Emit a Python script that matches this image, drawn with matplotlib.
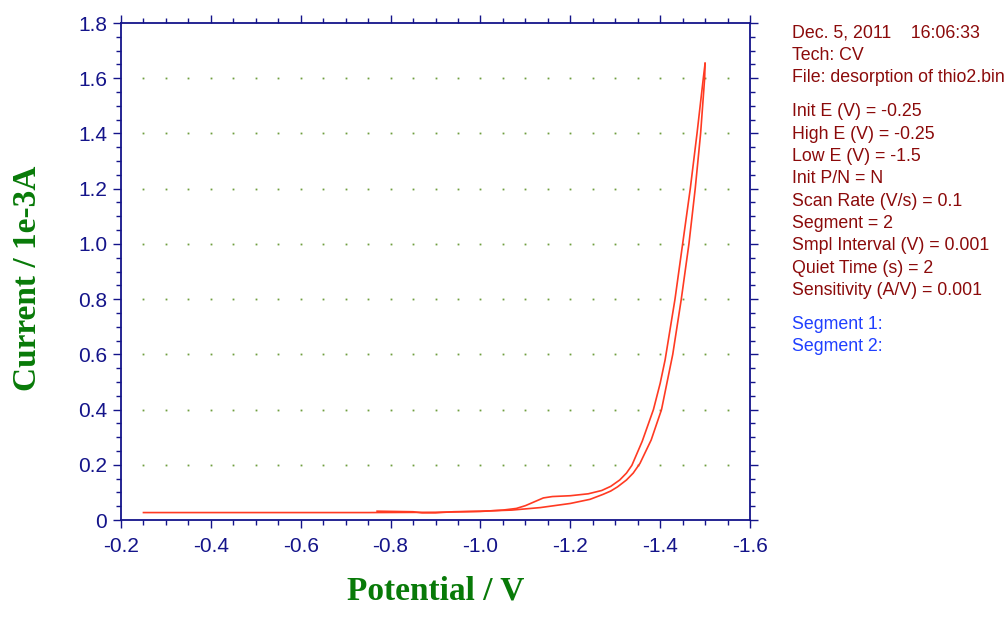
import numpy as np
import matplotlib
matplotlib.use('Agg')
import matplotlib.pyplot as plt
from matplotlib.ticker import MultipleLocator, FixedLocator, FixedFormatter

# segment 1: scan from -0.25 V down to -1.5 V
pot_seg1 = [-0.25, -0.5, -0.75, -0.9, -1.0, -1.05, -1.08, -1.10, -1.12, -1.14, -1.16,
            -1.20, -1.24, -1.27, -1.29, -1.31, -1.325, -1.337, -1.36, -1.385, -1.40,
            -1.411, -1.433, -1.450, -1.467, -1.482, -1.496, -1.50]
cur_seg1 = [0.027, 0.027, 0.027, 0.028, 0.031, 0.036, 0.042, 0.052, 0.066, 0.080, 0.085,
            0.088, 0.095, 0.107, 0.122, 0.145, 0.170, 0.198, 0.285, 0.400, 0.495,
            0.580, 0.800, 1.000, 1.200, 1.400, 1.600, 1.654]

# segment 2: return scan from -1.5 V
pot_seg2 = [-1.50, -1.499, -1.490, -1.478, -1.464, -1.447, -1.428, -1.403, -1.38, -1.355,
            -1.34, -1.325, -1.305, -1.29, -1.273, -1.244, -1.20, -1.133, -1.07, -1.0,
            -0.94, -0.90, -0.87, -0.85, -0.77]
cur_seg2 = [1.654, 1.600, 1.400, 1.200, 1.000, 0.800, 0.600, 0.400, 0.290, 0.205,
            0.170, 0.145, 0.120, 0.105, 0.093, 0.075, 0.060, 0.045, 0.036, 0.032,
            0.030, 0.026, 0.026, 0.030, 0.032]

y_ticks = [0, 0.2, 0.4, 0.6, 0.8, 1.0, 1.2, 1.4, 1.6, 1.8]
y_labels = ['0', '0.2', '0.4', '0.6', '0.8', '1.0', '1.2', '1.4', '1.6', '1.8']
x_ticks = [-0.2, -0.4, -0.6, -0.8, -1.0, -1.2, -1.4, -1.6]
x_labels = ['-0.2', '-0.4', '-0.6', '-0.8', '-1.0', '-1.2', '-1.4', '-1.6']

info_lines = ['Dec. 5, 2011    16:06:33', 'Tech: CV', 'File: desorption of thio2.bin']
param_lines = ['Init E (V) = -0.25', 'High E (V) = -0.25', 'Low E (V) = -1.5',
               'Init P/N = N', 'Scan Rate (V/s) = 0.1', 'Segment = 2',
               'Smpl Interval (V) = 0.001', 'Quiet Time (s) = 2',
               'Sensitivity (A/V) = 0.001']
segment_lines = ['Segment 1:', 'Segment 2:']

navy = '#14148a'
dark_red = '#8b0a0a'
blue = '#1f3fff'
green = '#087a08'
trace = '#ff3a22'

fig = plt.figure(figsize=(10.05, 6.19), dpi=100)
ax = fig.add_axes([0.1204, 0.1599, 0.6259, 0.8029])

# dotted grid: every minor x step, every major y step
gx = np.arange(-0.25, -1.5501, -0.05)
gy = np.array(y_ticks[1:-1])
GX, GY = np.meshgrid(gx, gy)
ax.plot(GX.ravel(), GY.ravel(), ls='none', marker='s', ms=1.3, mew=0,
        color='#6f9e3e', zorder=1)

ax.plot(pot_seg1, cur_seg1, color=trace, lw=1.2, zorder=3)
ax.plot(pot_seg2, cur_seg2, color=trace, lw=1.2, zorder=3)

ax.set_xlim(-0.2, -1.6)
ax.set_ylim(0, 1.8)

ax.xaxis.set_major_locator(FixedLocator(x_ticks))
ax.xaxis.set_major_formatter(FixedFormatter(x_labels))
ax.xaxis.set_minor_locator(MultipleLocator(0.05))
ax.yaxis.set_major_locator(FixedLocator(y_ticks))
ax.yaxis.set_major_formatter(FixedFormatter(y_labels))
ax.yaxis.set_minor_locator(MultipleLocator(0.05))

for s in ax.spines.values():
    s.set_color(navy)
    s.set_linewidth(1.3)

ax.tick_params(which='both', direction='out', color=navy, top=True, right=True,
               labelcolor=navy, labelsize=15)
ax.tick_params(which='major', length=6, width=1.0)
ax.tick_params(which='minor', length=3.5, width=1.0)
ax.tick_params(axis='x', pad=6)
ax.tick_params(axis='y', pad=4)
for lab in ax.get_xticklabels() + ax.get_yticklabels():
    lab.set_family('Liberation Sans')

fig.text(0.4334, 0.021, 'Potential / V', family='Liberation Serif', weight='bold',
         size=24, color=green, ha='center', va='bottom')
fig.text(0.027, 0.55, 'Current / 1e-3A', family='Liberation Serif', weight='bold',
         size=24, color=green, ha='center', va='center', rotation=90)

# instrument parameter panel on the right
x0 = 792 / 1005
step = 22.3 / 619
y = 1 - 33 / 619
for t in info_lines:
    fig.text(x0, y, t, family='Liberation Sans', size=12.8, color=dark_red, va='center')
    y -= step
y -= 12 / 619
for t in param_lines:
    fig.text(x0, y, t, family='Liberation Sans', size=12.8, color=dark_red, va='center')
    y -= step
y -= 12 / 619
for t in segment_lines:
    fig.text(x0, y, t, family='Liberation Sans', size=12.8, color=blue, va='center')
    y -= step

fig.savefig('out.png', dpi=100)
